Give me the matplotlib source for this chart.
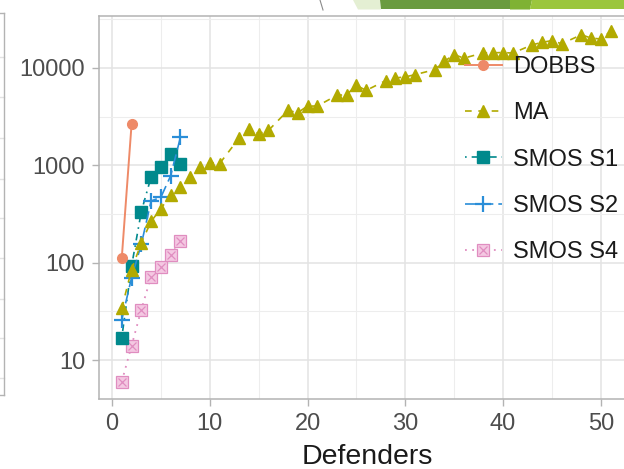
import matplotlib
matplotlib.use("Agg")
import matplotlib.pyplot as plt
from matplotlib.lines import Line2D
from matplotlib.patches import Polygon
from matplotlib.ticker import FixedLocator, NullFormatter

plt.rcParams['font.family'] = ['Liberation Sans', 'DejaVu Sans']

# ---------------- data ----------------
defenders_dobbs = [1, 2]
dobbs = [112, 2630]

defenders_ma = [1, 2, 3, 4, 5, 6, 7, 8, 9, 10, 11,
                13, 14, 15, 16, 18, 19, 20, 21, 23, 24, 25, 26,
                28, 29, 30, 31, 33, 34, 35, 36, 38, 39, 40, 41,
                43, 44, 45, 46, 48, 49, 50, 51]
ma = [34, 85, 160, 265, 360, 490, 600, 760, 950, 1065, 1040,
      1900, 2380, 2110, 2280, 3660, 3470, 4060, 4060, 5230, 5310, 6610, 5880,
      7400, 7890, 8090, 8530, 9600, 11700, 13700, 12600, 14300, 14300, 14400, 14200,
      17300, 18300, 19100, 17700, 21900, 20300, 19800, 23700]

defenders_smos = [1, 2, 3, 4, 5, 6, 7]
smos_s1 = [17, 92, 335, 760, 950, 1320, 1040]
smos_s2 = [26, 70, 155, 430, 470, 780, 1940]
smos_s4 = [6, 14, 33, 72, 90, 120, 165]

x_ticks = [0, 10, 20, 30, 40, 50]
x_minor = [5, 15, 25, 35, 45]
y_ticks = [10, 100, 1000, 10000]
y_tick_labels = ["10", "100", "1000", "10000"]
y_minor = [3.1623, 31.623, 316.23, 3162.3, 31623]

series_names = ["DOBBS", "MA", "SMOS S1", "SMOS S2", "SMOS S4"]

# ---------------- figure ----------------
W, H = 624, 469
fig = plt.figure(figsize=(W / 100, H / 100), dpi=100)
fig.patch.set_facecolor('white')


def fx(px):
    return px / W


def fy(py):
    return 1 - py / H


# slide decorations (top band and neighbouring panel edge)
for pts, col in [
    ([(353, 0), (380, 0), (381, 9.5), (358, 9.5)], '#E4EFD3'),
    ([(380, 0), (510, 0), (510, 9.5), (381, 9.5)], '#6A9B40'),
    ([(510, 0), (532, 0), (530, 9.5), (510, 9.5)], '#7FB233'),
    ([(532, 0), (624, 0), (624, 9.5), (530, 9.5)], '#9BC63D'),
]:
    fig.add_artist(Polygon([(fx(a), fy(b)) for a, b in pts], closed=True,
                           transform=fig.transFigure, facecolor=col,
                           edgecolor='none'))
fig.add_artist(Line2D([fx(320), fx(323)], [fy(0), fy(10)],
                      transform=fig.transFigure, color='#8A8A8A', lw=0.8))
for yy in [57, 97, 138, 179, 218, 258, 299, 338, 378]:
    fig.add_artist(Line2D([fx(0), fx(4)], [fy(yy), fy(yy)],
                          transform=fig.transFigure, color='#E2E2E2', lw=1.0))
fig.add_artist(Line2D([fx(4), fx(4)], [fy(13), fy(395)],
                      transform=fig.transFigure, color='#B3B3B3', lw=1.0))
fig.add_artist(Line2D([fx(0), fx(4)], [fy(395), fy(395)],
                      transform=fig.transFigure, color='#B3B3B3', lw=1.0))
fig.add_artist(Line2D([fx(0), fx(4)], [fy(13), fy(13)],
                      transform=fig.transFigure, color='#B3B3B3', lw=1.0))

# main panel
ax = fig.add_axes([fx(99), fy(399), (635 - 99) / W, (399 - 16) / H])
ax.set_facecolor('white')
ax.set_yscale('log')
ax.set_xlim(-1.33, 53.5)
ax.set_ylim(3.98, 34150)

ax.set_xticks(x_ticks)
ax.set_xticklabels([str(v) for v in x_ticks])
ax.xaxis.set_minor_locator(FixedLocator(x_minor))
ax.yaxis.set_major_locator(FixedLocator(y_ticks))
ax.set_yticklabels(y_tick_labels)
ax.yaxis.set_minor_locator(FixedLocator(y_minor))
ax.yaxis.set_minor_formatter(NullFormatter())
ax.xaxis.set_minor_formatter(NullFormatter())

ax.grid(which='major', color='#E3E3E3', lw=1.1, zorder=0)
ax.grid(which='minor', color='#EDEDED', lw=0.8, zorder=0)
ax.set_axisbelow(True)
for s in ax.spines.values():
    s.set_color('#B3B3B3')
    s.set_linewidth(1.1)

ax.tick_params(which='major', length=5, width=1.0, color='#B3B3B3',
               labelsize=17, labelcolor='#4D4D4D', pad=5.0)
ax.tick_params(which='minor', length=0)

ax.set_xlabel('Defenders', fontsize=20.5, color='#1A1A1A', labelpad=6.5)

c_dobbs = '#EE8A68'
c_ma = '#B2AA00'
c_s1 = '#00898C'
c_s2 = '#2A8ED8'
c_s4 = '#E08DC0'

h_s4sq, = ax.plot(defenders_smos, smos_s4, color=c_s4, lw=1.3,
                  ls=(0, (1, 3)), marker='s', ms=8.5, mfc='#F4C8E2',
                  mec=c_s4, mew=0.9, zorder=2)
h_s4x, = ax.plot(defenders_smos, smos_s4, ls='none', marker='x', ms=6,
                 color=c_s4, mew=0.9, zorder=2.1)
h_s1, = ax.plot(defenders_smos, smos_s1, color=c_s1, lw=1.2,
                ls=(0, (1, 3, 4, 3)), marker='s', ms=8.5, zorder=3)
h_s2, = ax.plot(defenders_smos, smos_s2, color=c_s2, lw=1.2,
                ls=(0, (7, 3)), marker='+', ms=11.5, mew=1.6, zorder=4)
h_ma, = ax.plot(defenders_ma, ma, color=c_ma, lw=1.2, ls=(0, (4, 4)),
                marker='^', ms=9, zorder=5)
h_dobbs, = ax.plot(defenders_dobbs, dobbs, color=c_dobbs, lw=1.4,
                   marker='o', ms=7, zorder=6)

leg = ax.legend([h_dobbs, h_ma, h_s1, h_s2, (h_s4sq, h_s4x)], series_names,
                loc='upper left', bbox_to_anchor=(fx(465), fy(56)),
                bbox_transform=fig.transFigure, frameon=False,
                fontsize=17, handlelength=1.55, handletextpad=0.5,
                labelspacing=1.03, borderpad=0, borderaxespad=0,
                numpoints=1)
for t in leg.get_texts():
    t.set_color('#1A1A1A')

fig.savefig('out.png', dpi=100)
